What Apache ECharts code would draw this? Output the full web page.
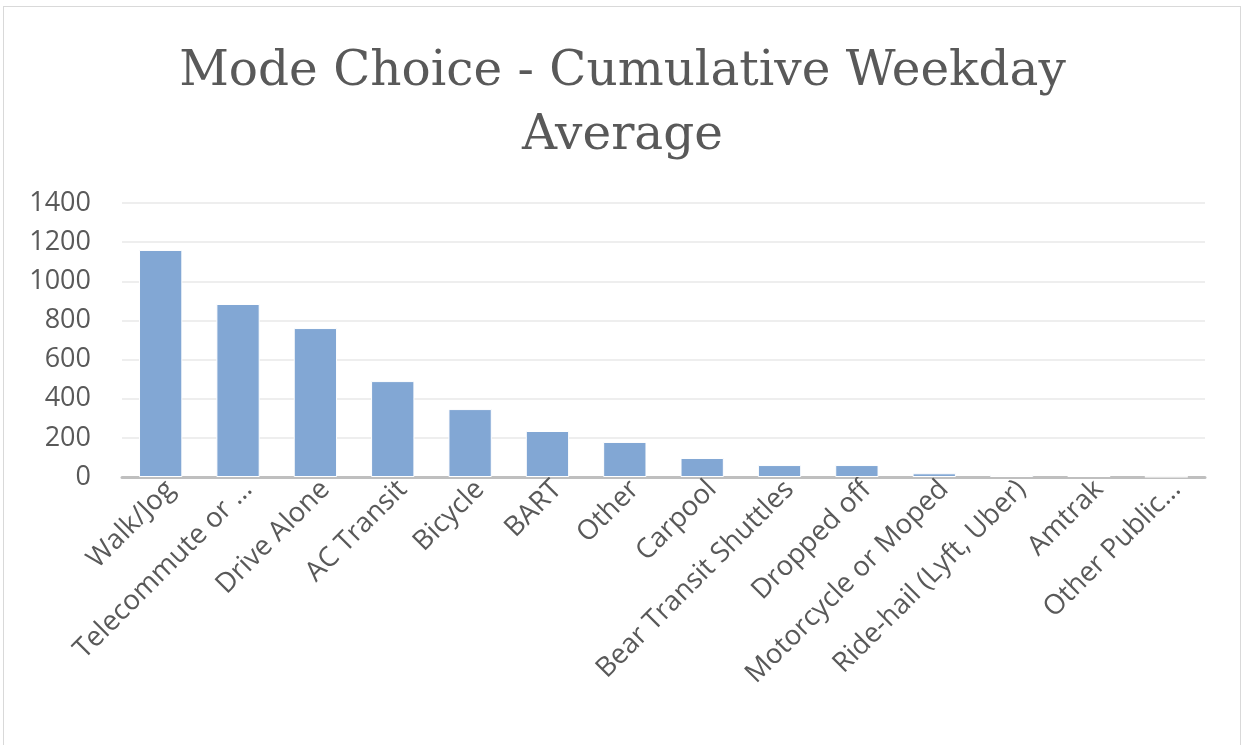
<!DOCTYPE html>
<html>
<head>
<meta charset="utf-8">
<script src="https://cdn.jsdelivr.net/npm/echarts@6/dist/echarts.min.js"></script>
<style>
    html, body { margin: 0; padding: 0; background: #fff; }
    #frame {
        position: absolute; left: 3px; top: 6px; width: 1238px; height: 745px;
        border: 1.5px solid #d9d9d9; box-sizing: border-box;
    }
    #main { position: absolute; left: 0; top: 0; width: 1245px; height: 745px; }
</style>
</head>
<body>
<div id="frame"></div>
<div id="main"></div>
<script>
// 类别和数值
var modes = ['Walk/Jog', 'Telecommute or …', 'Drive Alone', 'AC Transit', 'Bicycle', 'BART', 'Other',
    'Carpool', 'Bear Transit Shuttles', 'Dropped off', 'Motorcycle or Moped', 'Ride-hail (Lyft, Uber)',
    'Amtrak', 'Other Public…'];
var trips = [1160, 884, 761, 490, 347, 235, 179, 97, 61, 61, 19, 10, 5, 2];
var yTicks = [0, 200, 400, 600, 800, 1000, 1200, 1400];

var chart = echarts.init(document.getElementById('main'));

var option = {
    animation: false,
    title: {
        text: 'Mode Choice - Cumulative Weekday\nAverage',
        left: 'center',
        top: 35,
        textStyle: {
            fontFamily: 'DejaVu Serif',
            fontWeight: 'normal',
            fontSize: 48.5,
            lineHeight: 64,
            color: '#595959'
        }
    },
    grid: {
        left: 122,
        right: 40,
        top: 203,
        bottom: 268
    },
    xAxis: {
        type: 'category',
        data: modes,
        axisTick: { show: false },
        axisLine: { lineStyle: { color: '#bfbfbf', width: 3 } },
        axisLabel: {
            interval: 0,
            rotate: 45,
            margin: 18,
            fontFamily: 'Open Sans',
            fontSize: 27.5,
            color: '#595959',
            padding: [0, -14, 0, 0]
        }
    },
    yAxis: {
        type: 'value',
        min: yTicks[0],
        max: yTicks[yTicks.length - 1],
        interval: 200,
        axisLine: { show: false },
        axisTick: { show: false },
        splitLine: { lineStyle: { color: '#eeeeee', width: 2 } },
        axisLabel: {
            margin: 31,
            fontFamily: 'Open Sans',
            fontSize: 27,
            color: '#595959',
            formatter: function (v) { return String(v); }
        }
    },
    series: [{
        type: 'bar',
        data: trips,
        barCategoryGap: '44%',
        itemStyle: {
            color: '#82a7d4',
            borderColor: '#ffffff',
            borderWidth: 1
        }
    }]
};

chart.setOption(option);

window.onresize = function () {
    chart.resize();
};
</script>
</body>
</html>
